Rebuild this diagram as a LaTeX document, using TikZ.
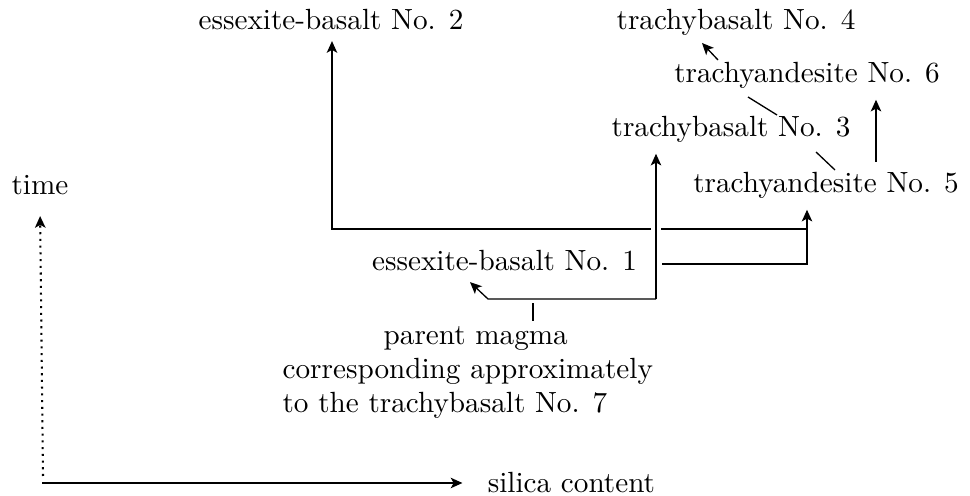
\documentclass[tikz,border=0pt]{standalone}
\usetikzlibrary{arrows.meta}
\begin{document}
\begin{tikzpicture}[x=0.3425pt,y=-0.3425pt,
  lbl/.style={inner sep=3.5pt,anchor=base},
  conn/.style={line width=0.45pt},
  arr/.style={conn,-{Stealth[length=4pt,width=3.6pt,inset=1pt]}},
  dotaxis/.style={line width=0.7pt,dash pattern=on 0.7pt off 1.6pt}]
\useasboundingbox (0,0) rectangle (970,496);
% labels
\node[lbl] (n2) at (331,30) {essexite-basalt No. 2};
\node[lbl] (n4) at (736,30) {trachybasalt No. 4};
\node[lbl] (n6) at (807,83) {trachyandesite No. 6};
\node[lbl] (n3) at (731,137) {trachybasalt No. 3};
\node[lbl] (n5) at (826,193) {trachyandesite No. 5};
\node[lbl] (n1) at (504.5,271) {essexite-basalt No. 1};
\node[inner sep=0pt,anchor=base west] (parent) at (282,345) {\renewcommand{\arraystretch}{0.97}\begin{tabular}[t]{@{}l@{}}\multicolumn{1}{@{}c@{}}{\hspace*{5.5pt}parent magma}\\ corresponding approximately\\ to the trachybasalt No. 7\end{tabular}};
\node[lbl] (time) at (40,195) {time};
\node[inner sep=3.5pt,anchor=west] (silica) at (477,483) {silica content};
% connectors from the parent magma
\coordinate (j) at (656,299);
\coordinate (pm) at (533,303);
\draw[conn] (parent.north -| pm) -- (pm);
\draw[arr] (j) -- (488,299) -- (n1.south -| 470,0);
\draw[arr] (j) -- (n3.south -| j);
% essexite-basalt No. 1 to trachyandesite No. 5
\coordinate (r1) at (662,264);
\coordinate (c5) at (807,264);
\draw[arr] (r1) -- (c5) -- (n5.south -| c5);
% line to essexite-basalt No. 2
\coordinate (h1) at (651,229);
\coordinate (c2) at (332,229);
\coordinate (h2) at (661,229);
\coordinate (h3) at (807,229);
\draw[arr] (h1) -- (c2) -- (n2.south -| c2);
\draw[conn] (h2) -- (h3);
% trachyandesite No. 5 to No. 6
\draw[arr] (n5.north -| 876,0) -- (n6.south -| 876,0);
% diagonal links
\coordinate (d1) at (777,115);
\coordinate (d2) at (748,97);
\draw[conn] (d1) -- (d2);
\coordinate (d3) at (835,170);
\coordinate (d4) at (816,152);
\draw[conn] (d3) -- (d4);
\coordinate (d5) at (718,60);
\coordinate (d6) at (702,43);
\draw[arr] (d5) -- (d6);
% axes
\coordinate (o) at (42,483);
\coordinate (ov) at (43,476);
\draw[dotaxis,-{Stealth[length=4pt,width=3.6pt,inset=1pt]}] (ov) -- (time.south) [shorten >=3.4pt];
\draw[arr,shorten >=5pt] (o) -- (silica.west);
\end{tikzpicture}
\end{document}
